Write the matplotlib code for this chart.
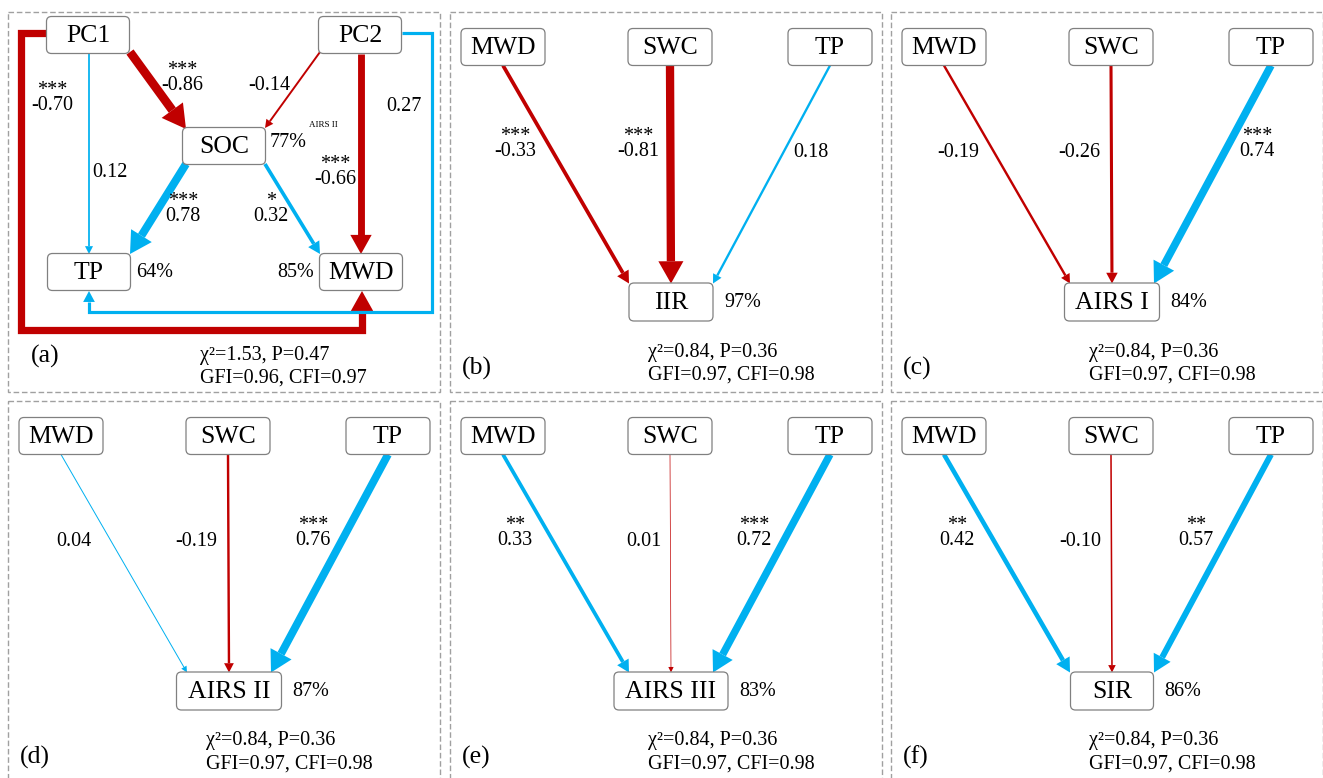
import matplotlib
matplotlib.use("Agg")
import matplotlib.pyplot as plt
from matplotlib.patches import FancyBboxPatch, Polygon, Rectangle
import numpy as np

plt.rcParams['font.family'] = ['Liberation Serif', 'DejaVu Serif']

RED = '#C00000'
BLUE = '#00B0F0'

# ---- data: panels (b)-(f), three predictors -> one response
predictors = ["MWD", "SWC", "TP"]
responses = ["IIR", "AIRS I", "AIRS II", "AIRS III", "SIR"]
panel_tags = ["(b)", "(c)", "(d)", "(e)", "(f)"]
coefs = [[-0.33, -0.81, 0.18],
         [-0.19, -0.26, 0.74],
         [0.04, -0.19, 0.76],
         [0.33, 0.01, 0.72],
         [0.42, -0.10, 0.57]]
stars = [["***", "***", ""],
         ["", "", "***"],
         ["", "", "***"],
         ["**", "", "***"],
         ["**", "", "**"]]
# paths drawn as negative although the printed value rounds to positive
neg_override = [(3, 1)]
r2 = [97, 84, 87, 83, 86]
chi2 = [0.84, 0.84, 0.84, 0.84, 0.84]
pval = [0.36, 0.36, 0.36, 0.36, 0.36]
gfi = [0.97, 0.97, 0.97, 0.97, 0.97]
cfi = [0.98, 0.98, 0.98, 0.98, 0.98]

# ---- data: panel (a)
a_nodes = ["PC1", "PC2", "SOC", "TP", "MWD"]
a_paths = [("PC1", "SOC"), ("PC2", "SOC"), ("PC1", "TP"), ("PC2", "MWD"),
           ("SOC", "TP"), ("SOC", "MWD"), ("PC1", "MWD"), ("PC2", "TP")]
a_coefs = [-0.86, -0.14, 0.12, -0.66, 0.78, 0.32, -0.70, 0.27]
a_stars = ["***", "", "", "***", "***", "*", "***", ""]
a_r2 = {"SOC": 77, "TP": 64, "MWD": 85}
a_fit = (1.53, 0.47, 0.96, 0.97)

# ---- layout (pixel units)
NW, NH = 84, 37
origins = [(450, 12), (891, 12), (8, 401), (450, 401), (891, 401)]
src_x = [53, 220, 380]
src_y = 35
tgt_x, tgt_y = 221, 290
resp_w = [84, 95, 105, 114, 83]
lab_x = [[65, 188, 361], [67, 188, 366], [66, 188, 305], [65, 194, 304], [66, 189, 305]]

a_pos = {"PC1": (88, 35), "PC2": (360, 35), "SOC": (224, 146), "TP": (89, 272), "MWD": (361, 272)}
a_route = [[(130, 52), (186, 129)],
           [(320, 52), (265, 128)],
           [(89, 54), (89, 254)],
           [(361, 54), (361, 254)],
           [(186, 164), (130, 254)],
           [(265, 164), (320, 254)],
           [(47, 33), (21, 33), (21, 330), (362, 330), (362, 291)],
           [(402, 33), (432, 33), (432, 312), (89, 312), (89, 291)]]
a_lab = [(182, 86), (269, 85), (110, 172), (335, 180), (183, 217), (271, 217), (52, 106), (404, 106)]


def arrow(ax, pts, c, neg=None):
    if neg is None:
        neg = c < 0
    col = RED if neg else BLUE
    w = 0.6 + 9.5 * abs(c)
    hl = 2.2 * w + 4
    hw = 2.6 * w + 3.5
    pts = np.array(pts, float)
    tip = pts[-1]
    d = tip - pts[-2]
    d /= np.hypot(*d)
    base = tip - d * hl
    n = np.array([-d[1], d[0]])
    shaft = np.vstack([pts[:-1], base])
    ax.plot(shaft[:, 0], shaft[:, 1], color=col, lw=w * 0.72,
            solid_capstyle='butt', solid_joinstyle='miter', zorder=2)
    ax.add_patch(Polygon([tip, base + n * hw / 2, base - n * hw / 2],
                         closed=True, fc=col, ec='none', zorder=2))


def box(ax, cx, cy, w, label, h=NH):
    ax.add_patch(FancyBboxPatch((cx - w / 2, cy - h / 2), w, h,
                                boxstyle="round,pad=0,rounding_size=5",
                                fc='white', ec='#808080', lw=0.9, zorder=3))
    ax.text(cx, cy + 1, label, ha='center', va='center', fontsize=18.5, zorder=4)


def coef_label(ax, x, y, c, s):
    if s:
        ax.text(x, y - 8, f"{s}\n{c:.2f}", ha='center', va='center',
                multialignment='center', linespacing=0.72, fontsize=14.5)
    else:
        ax.text(x, y, f"{c:.2f}", ha='center', va='center', fontsize=14.5)


def fit_text(ax, x, y, f):
    ax.text(x, y, f"χ²={f[0]:.2f}, P={f[1]:.2f}", ha='left', va='center', fontsize=14.5)
    ax.text(x, y + 23, f"GFI={f[2]:.2f}, CFI={f[3]:.2f}", ha='left', va='center', fontsize=14.5)


fig = plt.figure(figsize=(13.23, 7.78), dpi=100)
ax = fig.add_axes([0, 0, 1, 1])
ax.set_xlim(0, 1323)
ax.set_ylim(778, 0)
ax.axis('off')

# panel borders
for (x0, y0) in [(8, 12)] + origins:
    ax.add_patch(Rectangle((x0, y0), 432, 380, fill=False, ec='#a0a0a0', lw=1, ls=(0, (4, 2))))

# ---- panel (a)
for i, (s, t) in enumerate(a_paths):
    arrow(ax, a_route[i], a_coefs[i])
    coef_label(ax, a_lab[i][0], a_lab[i][1], a_coefs[i], a_stars[i])
for nm in a_nodes:
    box(ax, a_pos[nm][0], a_pos[nm][1], 83, nm)
ax.text(270, 142, f"{a_r2['SOC']}%", ha='left', va='center', fontsize=14.5)
ax.text(136, 272, f"{a_r2['TP']}%", ha='left', va='center', fontsize=14.5)
ax.text(314, 272, f"{a_r2['MWD']}%", ha='right', va='center', fontsize=14.5)
ax.text(323, 125, "AIRS II", ha='center', va='center', fontsize=6.5)
fit_text(ax, 200, 355, a_fit)
ax.text(31, 356, "(a)", ha='left', va='center', fontsize=18.5)

# ---- panels (b)-(f)
for k, (x0, y0) in enumerate(origins):
    tw = resp_w[k]
    for j in range(3):
        start = (x0 + src_x[j], y0 + src_y + NH / 2)
        end = (x0 + tgt_x + (j - 1) * 42, y0 + tgt_y - NH / 2)
        neg = True if (k, j) in neg_override else None
        arrow(ax, [start, end], coefs[k][j], neg)
        coef_label(ax, x0 + lab_x[k][j], y0 + 140, coefs[k][j], stars[k][j])
    for j, nm in enumerate(predictors):
        box(ax, x0 + src_x[j], y0 + src_y, NW, nm)
    box(ax, x0 + tgt_x, y0 + tgt_y, tw, responses[k], h=NH + 1)
    ax.text(x0 + tgt_x + tw / 2 + 11, y0 + tgt_y, f"{r2[k]}%", ha='left', va='center', fontsize=14.5)
    fit_text(ax, x0 + 198, y0 + 340, (chi2[k], pval[k], gfi[k], cfi[k]))
    ax.text(x0 + 12, y0 + 356, panel_tags[k], ha='left', va='center', fontsize=18.5)

fig.savefig('out.png', dpi=100)
